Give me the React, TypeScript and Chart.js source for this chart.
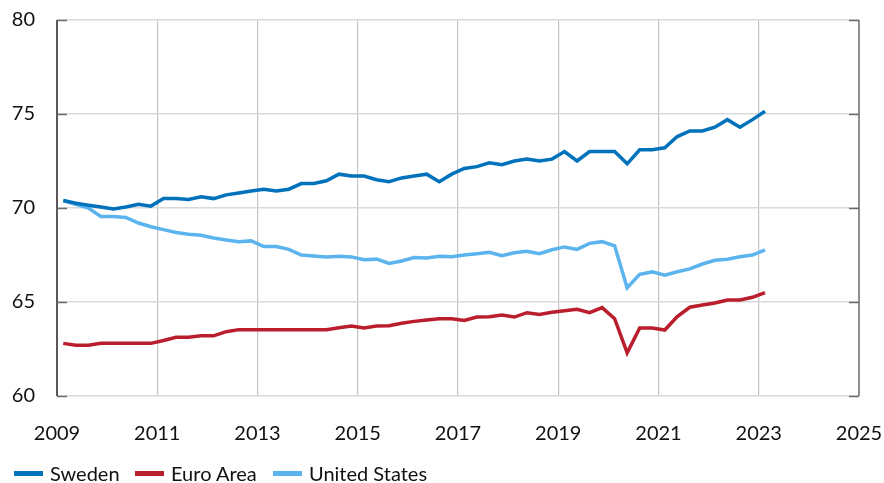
import React, { useEffect, useRef } from "react";
import { Chart, registerables } from "chart.js";

Chart.register(...registerables);

// Quarterly observations, 2009Q1 .. 2023Q1
const startYear = 2009;
const quarters: string[] = Array.from({ length: 57 }, (_, i) => `${startYear + Math.floor(i / 4)}Q${(i % 4) + 1}`);

const sweden = [
  70.4, 70.25, 70.15, 70.05, 69.95, 70.05, 70.2, 70.1,
  70.5, 70.5, 70.45, 70.6, 70.5, 70.7, 70.8, 70.9,
  71.0, 70.9, 71.0, 71.3, 71.3, 71.45, 71.8, 71.7,
  71.7, 71.5, 71.4, 71.6, 71.7, 71.8, 71.4, 71.8,
  72.1, 72.2, 72.4, 72.3, 72.5, 72.6, 72.5, 72.6,
  73.0, 72.5, 73.0, 73.0, 73.0, 72.35, 73.1, 73.1,
  73.2, 73.8, 74.1, 74.1, 74.3, 74.7, 74.3, 74.7,
  75.15,
];

const euroArea = [
  62.8, 62.7, 62.7, 62.8, 62.8, 62.8, 62.8, 62.8,
  62.95, 63.12, 63.12, 63.2, 63.2, 63.42, 63.53, 63.53,
  63.53, 63.53, 63.53, 63.53, 63.53, 63.53, 63.63, 63.72,
  63.62, 63.72, 63.74, 63.87, 63.97, 64.04, 64.11, 64.11,
  64.02, 64.2, 64.22, 64.31, 64.2, 64.43, 64.34, 64.45,
  64.54, 64.61, 64.43, 64.7, 64.11, 62.3, 63.62, 63.62,
  63.51, 64.22, 64.72, 64.84, 64.95, 65.11, 65.11, 65.25,
  65.5,
];

const unitedStates = [
  70.4, 70.2, 70.0, 69.55, 69.55, 69.5, 69.2, 69.0,
  68.85, 68.7, 68.6, 68.55, 68.4, 68.3, 68.2, 68.25,
  67.95, 67.95, 67.8, 67.5, 67.45, 67.4, 67.43, 67.4,
  67.25, 67.28, 67.05, 67.18, 67.37, 67.34, 67.43, 67.41,
  67.5, 67.57, 67.64, 67.46, 67.62, 67.7, 67.57, 67.78,
  67.93, 67.8, 68.12, 68.21, 67.99, 65.76, 66.47, 66.6,
  66.42, 66.61, 66.76, 67.02, 67.22, 67.27, 67.41, 67.5,
  67.77,
];

const seriesNames = ["Sweden", "Euro Area", "United States"];
const seriesColors = ["#0072BC", "#BA1E2D", "#5CB4EE"];
const yTicks = [60, 65, 70, 75, 80];
const xTicks = [2009, 2011, 2013, 2015, 2017, 2019, 2021, 2023, 2025];

const FONT = "Lato, 'Open Sans', sans-serif";

function quarterToX(q: string): number {
  const y = parseInt(q.slice(0, 4), 10);
  const n = parseInt(q.slice(5), 10);
  return y + (n - 1) * 0.25 + 0.125;
}

const axisPlugin = {
  id: "axisLines",
  beforeDatasetsDraw(chart: any) {
    const { ctx, chartArea } = chart;
    const yScale = chart.scales.y;
    ctx.save();
    ctx.lineWidth = 1.5;
    ctx.strokeStyle = "#222222";
    ctx.beginPath();
    ctx.moveTo(chartArea.left, chartArea.top);
    ctx.lineTo(chartArea.left, chartArea.bottom);
    ctx.stroke();
    ctx.strokeStyle = "#6b6b6b";
    ctx.beginPath();
    ctx.moveTo(chartArea.right, chartArea.top);
    ctx.lineTo(chartArea.right, chartArea.bottom);
    ctx.stroke();
    ctx.strokeStyle = "#6b6b6b";
    ctx.lineWidth = 1.5;
    for (const v of yTicks) {
      const py = Math.round(yScale.getPixelForValue(v)) + 0.5;
      ctx.beginPath();
      ctx.moveTo(chartArea.left, py);
      ctx.lineTo(chartArea.left + 10, py);
      ctx.moveTo(chartArea.right - 10, py);
      ctx.lineTo(chartArea.right, py);
      ctx.stroke();
    }
    ctx.restore();
  },
};

export default function App() {
  const canvasRef = useRef<HTMLCanvasElement | null>(null);

  useEffect(() => {
    if (!canvasRef.current) return;
    const xs = quarters.map(quarterToX);
    const values = [sweden, euroArea, unitedStates];
    const chart = new Chart(canvasRef.current, {
      type: "line",
      data: {
        datasets: values.map((arr, k) => ({
          label: seriesNames[k],
          data: arr.map((v, i) => ({ x: xs[i], y: v })),
          borderColor: seriesColors[k],
          backgroundColor: seriesColors[k],
          borderWidth: 3.5,
          pointRadius: 0,
          tension: 0,
          fill: false,
        })),
      },
      options: {
        animation: false,
        responsive: false,
        maintainAspectRatio: false,
        layout: { padding: { left: 0, right: 25, top: 20, bottom: 37 } },
        plugins: {
          legend: { display: false },
          tooltip: { enabled: false },
        },
        scales: {
          x: {
            type: "linear",
            min: 2009,
            max: 2025,
            afterBuildTicks: (s: any) => {
              s.ticks = xTicks.map((v) => ({ value: v }));
            },
            afterFit: (s: any) => {
              s.height = 50;
              s.paddingLeft = 0;
              s.paddingRight = 0;
            },
            grid: {
              color: (c: any) => (c.tick && (c.tick.value === 2009 || c.tick.value === 2025) ? "rgba(0,0,0,0)" : "#c4c4c4"),
              lineWidth: 1.2,
              drawTicks: false,
            },
            border: { display: false },
            ticks: {
              color: "#111111",
              font: { family: FONT, size: 20 },
              padding: 26,
              maxRotation: 0,
              autoSkip: false,
              callback: (v: any) => String(v),
            },
          },
          y: {
            min: 60,
            max: 80,
            afterBuildTicks: (s: any) => {
              s.ticks = yTicks.map((v) => ({ value: v }));
            },
            afterFit: (s: any) => {
              s.width = 57;
              s.paddingTop = 0;
              s.paddingBottom = 0;
            },
            grid: { color: "#d9d9d9", lineWidth: 1.5, drawTicks: false },
            border: { display: false },
            ticks: {
              color: "#111111",
              font: { family: FONT, size: 20 },
              padding: 22,
              callback: (v: any) => String(v),
            },
          },
        },
      },
      plugins: [axisPlugin],
    });
    return () => chart.destroy();
  }, []);

  const legendPos = [14, 135, 273];

  return (
    <div style={{ position: "fixed", left: 0, top: 0, width: 884, height: 483, background: "#ffffff", overflow: "hidden" }}>
      <canvas ref={canvasRef} width={884} height={483} style={{ display: "block", width: 884, height: 483 }} />
      {seriesNames.map((name, k) => (
        <div
          key={name}
          style={{
            position: "absolute",
            left: legendPos[k],
            top: 461,
            height: 24,
            display: "flex",
            alignItems: "center",
            fontFamily: FONT,
            fontSize: 20,
            color: "#111111",
            whiteSpace: "nowrap",
          }}
        >
          <span style={{ display: "inline-block", width: 29, height: 5, background: seriesColors[k], marginRight: 7 }} />
          <span>{name}</span>
        </div>
      ))}
    </div>
  );
}
